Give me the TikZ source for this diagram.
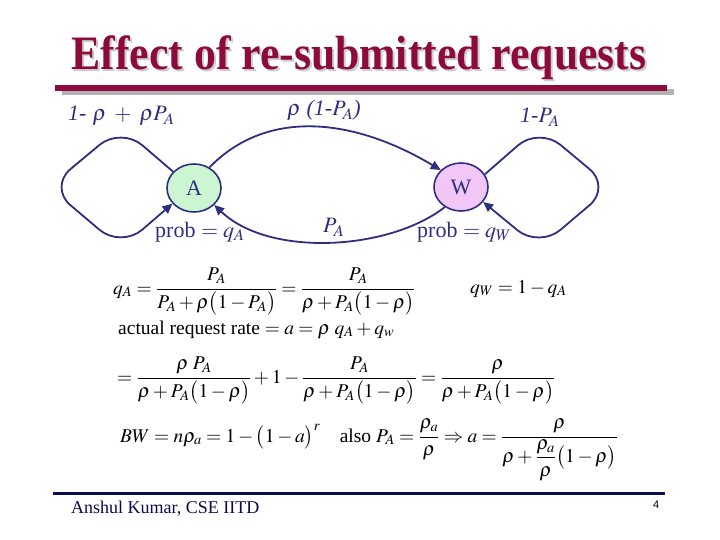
\documentclass[tikz,border=0pt]{standalone}
\usepackage{amsmath}
\usepackage{mathptmx}
\usepackage{fontspec}
\setmainfont{Liberation Serif}
\setsansfont{Liberation Sans}
\usetikzlibrary{arrows.meta,positioning,shapes.geometric}
\definecolor{titlered} {HTML}{8C0B3C}
\definecolor{navy}     {HTML}{2E2E80}
\definecolor{darknavy} {HTML}{0A0A50}
\definecolor{lightgreen}{HTML}{CCF5D2}
\definecolor{lightpink}{HTML}{F2C6F6}
\begin{document}
\begin{tikzpicture}[
  state/.style={ellipse,draw=navy,line width=1.6pt,minimum width=54pt,
                minimum height=48pt,inner sep=0pt,text=navy,
                font=\fontsize{22}{26}\selectfont},
  arr/.style={-{Triangle[length=10pt,width=9pt]},line width=1.8pt,draw=navy},
  lbl/.style={anchor=base west,inner sep=0pt,text=navy,
              font=\fontsize{22}{26}\selectfont},
  eqn/.style={anchor=base west,inner sep=0pt,font=\fontsize{19.5}{23}\selectfont},
  x=1pt,y=-1pt
]
\useasboundingbox (0,0) rectangle (720,540);
% Title and rule
\node[anchor=base,inner sep=0pt,text=gray!40,
      font=\fontsize{48}{52}\selectfont\bfseries] (titleshadow) at (361,71.5)
      {\scalebox{0.91}[1]{Effect of re-submitted requests}};
\node[anchor=base,inner sep=0pt,text=titlered,
      font=\fontsize{48}{52}\selectfont\bfseries] (title) at (359,70)
      {\scalebox{0.91}[1]{Effect of re-submitted requests}};
\fill[gray!60] (62,89) rectangle (674,95);
\fill[titlered] (55,85) rectangle (667,91);
% States
\node[state,fill=lightgreen] (A) at (194,188) {A};
\node[state,fill=lightpink]  (W) at (461,187) {W};
% Transitions
\draw[arr,rounded corners=28pt] (A.142) -- (121,127) -- (49,187) -- (121,248) -- (A.216);
\draw[arr] (A.53) .. controls (265,110) and (350,116) .. (W.140);
\draw[arr] (W.231) .. controls (390,250) and (270,258) .. (A.320);
\draw[arr,rounded corners=28pt] (W.28) -- (539,127) -- (611,187) -- (539,248) -- (W.326);
% Labels
\node[lbl] (loopA) at (68,121) {\textit{1-}\;$\rho\;+\;\rho P_A$};
\node[lbl] (toW)   at (287,116) {$\rho$ \textit{(1-}$P_A$\textit{)}};
\node[lbl] (loopW) at (520,123) {\textit{1-}$P_A$};
\node[lbl] (toA)   at (323,233) {$P_A$};
\node[lbl] (probA) at (155,237) {prob $= q_A$};
\node[lbl] (probW) at (417,237) {prob $= q_W$};
% Equations
\node[eqn] (eqA) at (113,294)
  {$\displaystyle q_A=\frac{P_A}{P_A+\rho\bigl(1-P_A\bigr)}=\frac{P_A}{\rho+P_A\bigl(1-\rho\bigr)}$};
\node[eqn] (eqW) at (470,293) {$q_W=1-q_A$};
\node[eqn] (rate) at (118,334)
  {actual request rate $=a=\rho\;q_A+q_w$};
\node[eqn] (eqR) at (117,383)
  {$\displaystyle =\frac{\rho\;P_A}{\rho+P_A\bigl(1-\rho\bigr)}+1-\frac{P_A}{\rho+P_A\bigl(1-\rho\bigr)}=\frac{\rho}{\rho+P_A\bigl(1-\rho\bigr)}$};
\node[eqn] (eqBW) at (120,442)
  {$\displaystyle BW=n\rho_a=1-\bigl(1-a\bigr)^r$\quad also $\displaystyle P_A=\frac{\rho_a}{\rho}\Rightarrow a=\frac{\rho}{\rho+\dfrac{\rho_a}{\rho}\bigl(1-\rho\bigr)}$};
% Footer
\draw[darknavy,line width=3pt] (53,493) -- (665,493);
\node[anchor=base west,inner sep=0pt,text=darknavy,
      font=\fontsize{18}{21}\selectfont] (author) at (71,513) {Anshul Kumar, CSE IITD};
\node[anchor=base west,inner sep=0pt,font=\sffamily\fontsize{11}{13}\selectfont]
      (page) at (653,508) {4};
\end{tikzpicture}
\end{document}
